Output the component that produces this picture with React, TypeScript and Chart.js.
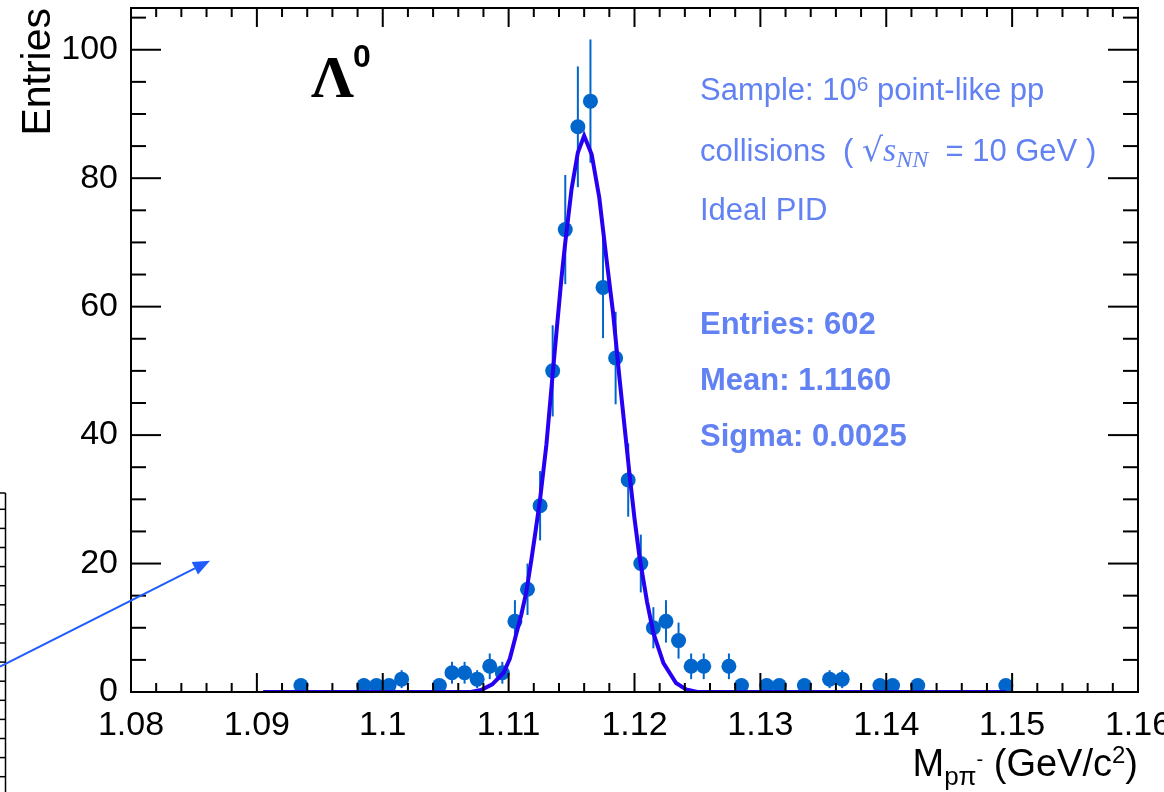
import React, { useEffect, useRef } from 'react';
import { Chart, registerables } from 'chart.js';

Chart.register(...registerables);

// ---- data ----
const binCenters = [
  1.0935, 1.0985, 1.0995, 1.1005, 1.1015, 1.1045, 1.1055, 1.1065, 1.1075, 1.1085,
  1.1095, 1.1105, 1.1115, 1.1125, 1.1135, 1.1145, 1.1155, 1.1165, 1.1175, 1.1185,
  1.1195, 1.1205, 1.1215, 1.1225, 1.1235, 1.1245, 1.1255, 1.1275, 1.1285, 1.1305,
  1.1315, 1.1335, 1.1355, 1.1365, 1.1395, 1.1405, 1.1425, 1.1495,
];
const binCounts = [
  1, 1, 1, 1, 2, 1, 3, 3, 2, 4,
  3, 11, 16, 29, 50, 72, 88, 92, 63, 52,
  33, 20, 10, 11, 8, 4, 4, 4, 1, 1,
  1, 1, 2, 2, 1, 1, 1, 1,
];
const binErrors = [
  1, 1, 1, 1, 1.4, 1, 1.7, 1.7, 1.4, 2,
  1.7, 3.3, 4, 5.4, 7.1, 8.5, 9.4, 9.6, 7.9, 7.2,
  5.7, 4.5, 3.2, 3.3, 2.8, 2, 2, 2, 1, 1,
  1, 1, 1.4, 1.4, 1, 1, 1, 1,
];
const fitX = [
  1.0905, 1.107, 1.1078, 1.1087, 1.1096, 1.1101, 1.1106, 1.111, 1.1114, 1.1118,
  1.1121, 1.1125, 1.113, 1.1135, 1.1138, 1.1142, 1.1145, 1.115, 1.1155, 1.116,
  1.1166, 1.1172, 1.1178, 1.1183, 1.1188, 1.1192, 1.1196, 1.12, 1.1204, 1.121,
  1.1215, 1.1223, 1.1233, 1.1241, 1.125, 1.1495,
];
const fitY = [
  0, 0, 0.3, 1.2, 3.0, 5.2, 9.0, 12.0, 15.5, 20.5,
  24.5, 30.0, 38.5, 49.5, 56.0, 64.5, 70.0, 78.3, 84.0, 86.6,
  83.7, 77.0, 67.0, 59.0, 49.0, 41.5, 34.0, 27.0, 21.0, 14.0,
  9.2, 4.5, 1.4, 0.4, 0, 0,
];
const statsLines = ['Entries: 602', 'Mean: 1.1160', 'Sigma: 0.0025'];

const X_MIN = 1.08;
const X_MAX = 1.16;
const X_STEP = 0.01;
const X_MINOR = 0.002;
const Y_MIN = 0;
const Y_MAX = 106.5;
const Y_STEP = 20;
const Y_MINOR = 5;

const POINT_COLOR = '#0066cc';
const FIT_COLOR = '#2600f2';
const TEXT_BLUE = '#6282f3';
const ARROW_BLUE = '#1f5bff';
const SANS = "'Liberation Sans', Arial, Helvetica, sans-serif";
const SERIF = "'Liberation Serif', 'Times New Roman', serif";

const errorBarPlugin = {
  id: 'errorBars',
  beforeDatasetsDraw(chart: any) {
    const { ctx } = chart;
    const x = chart.scales.x;
    const y = chart.scales.y;
    ctx.save();
    ctx.strokeStyle = POINT_COLOR;
    ctx.lineWidth = 2;
    binCenters.forEach((c, i) => {
      const px = x.getPixelForValue(c);
      ctx.beginPath();
      ctx.moveTo(px, y.getPixelForValue(Math.max(0, binCounts[i] - binErrors[i])));
      ctx.lineTo(px, y.getPixelForValue(binCounts[i] + binErrors[i]));
      ctx.stroke();
    });
    ctx.restore();
  },
};

function line(ctx: CanvasRenderingContext2D, x1: number, y1: number, x2: number, y2: number) {
  ctx.beginPath();
  ctx.moveTo(x1, y1);
  ctx.lineTo(x2, y2);
  ctx.stroke();
}

const framePlugin = {
  id: 'frame',
  afterDraw(chart: any) {
    const { ctx, chartArea } = chart;
    const { left, right, top, bottom } = chartArea;
    const x = chart.scales.x;
    const y = chart.scales.y;
    ctx.save();
    ctx.strokeStyle = '#000';
    ctx.lineWidth = 2;
    ctx.strokeRect(left, top, right - left, bottom - top);
    const nx = Math.round((X_MAX - X_MIN) / X_MINOR);
    for (let i = 0; i <= nx; i++) {
      const px = x.getPixelForValue(X_MIN + i * X_MINOR);
      const len = i % 5 === 0 ? 19 : 9;
      line(ctx, px, bottom, px, bottom - len);
      line(ctx, px, top, px, top + len);
    }
    const ny = Math.floor((Y_MAX - Y_MIN) / Y_MINOR);
    for (let i = 0; i <= ny; i++) {
      const py = y.getPixelForValue(Y_MIN + i * Y_MINOR);
      const len = i % 4 === 0 ? 30 : 15;
      line(ctx, left, py, left + len, py);
      line(ctx, right, py, right - len, py);
    }
    ctx.restore();
  },
};

type Seg = { text: string; font: string; dy: number };
function drawSegs(ctx: CanvasRenderingContext2D, segs: Seg[], x: number, baseline: number, align: 'left' | 'right') {
  let total = 0;
  const widths = segs.map((s) => {
    ctx.font = s.font;
    const w = ctx.measureText(s.text).width;
    total += w;
    return w;
  });
  let cx = align === 'left' ? x : x - total;
  segs.forEach((s, i) => {
    ctx.font = s.font;
    ctx.fillText(s.text, cx, baseline + s.dy);
    cx += widths[i];
  });
}

const textPlugin = {
  id: 'texts',
  afterDraw(chart: any) {
    const { ctx, chartArea } = chart;
    ctx.save();
    ctx.textBaseline = 'alphabetic';
    ctx.textAlign = 'left';

    // Lambda label
    ctx.fillStyle = '#000';
    ctx.font = `bold 60px ${SERIF}`;
    ctx.fillText('\u039B', 311, 97);
    ctx.font = `bold 32px ${SANS}`;
    ctx.fillText('0', 353, 67);

    // annotation
    ctx.fillStyle = TEXT_BLUE;
    const f = `31px ${SANS}`;
    drawSegs(ctx, [
      { text: 'Sample: 10', font: f, dy: 0 },
      { text: '6', font: `21px ${SANS}`, dy: -9 },
      { text: ' point-like pp', font: f, dy: 0 },
    ], 700, 100, 'left');
    drawSegs(ctx, [
      { text: 'collisions  ( ', font: f, dy: 0 },
      { text: '\u221A', font: `33px 'DejaVu Sans', ${SANS}`, dy: 0 },
      { text: 's', font: `italic 34px ${SERIF}`, dy: 0 },
      { text: 'NN', font: `italic 24px ${SERIF}`, dy: 6 },
      { text: '  = 10 GeV )', font: f, dy: 0 },
    ], 700, 161, 'left');
    ctx.font = f;
    ctx.fillText('Ideal PID', 700, 220);

    ctx.font = `bold 31px ${SANS}`;
    statsLines.forEach((s, i) => ctx.fillText(s, 700, 334 + i * 56));

    // x-axis title
    ctx.fillStyle = '#000';
    const tf = `38px ${SANS}`;
    drawSegs(ctx, [
      { text: 'M', font: tf, dy: 0 },
      { text: 'p\u03C0', font: `26px ${SANS}`, dy: 9 },
      { text: '-', font: `20px ${SANS}`, dy: -10 },
      { text: ' (GeV/c', font: tf, dy: 0 },
      { text: '2', font: `24px ${SANS}`, dy: -13 },
      { text: ')', font: tf, dy: 0 },
    ], chartArea.right, 776, 'right');

    // neighbouring panel fragment at the lower-left edge
    ctx.strokeStyle = '#000';
    ctx.lineWidth = 1.5;
    line(ctx, 0, 493, 5.5, 493);
    line(ctx, 5.5, 493, 5.5, 792);
    for (let k = 0; k < 15; k++) {
      const py = 509.3 + k * 19.1;
      line(ctx, 0, py, 5.5, py);
    }

    // arrow
    const ax0 = 0, ay0 = 666.7, ax1 = 210, ay1 = 560.7;
    const ang = Math.atan2(ay1 - ay0, ax1 - ax0);
    const hl = 17, hw = 7;
    const bx = ax1 - hl * Math.cos(ang);
    const by = ay1 - hl * Math.sin(ang);
    ctx.strokeStyle = ARROW_BLUE;
    ctx.fillStyle = ARROW_BLUE;
    ctx.lineWidth = 2;
    line(ctx, ax0, ay0, bx, by);
    ctx.beginPath();
    ctx.moveTo(ax1, ay1);
    ctx.lineTo(bx + hw * Math.sin(ang), by - hw * Math.cos(ang));
    ctx.lineTo(bx - hw * Math.sin(ang), by + hw * Math.cos(ang));
    ctx.closePath();
    ctx.fill();

    ctx.restore();
  },
};

export default function App() {
  const canvasRef = useRef<HTMLCanvasElement | null>(null);

  useEffect(() => {
    if (!canvasRef.current) return;
    const chart = new Chart(canvasRef.current, {
      type: 'scatter',
      data: {
        datasets: [
          {
            type: 'line',
            label: 'fit',
            data: fitX.map((x, i) => ({ x, y: fitY[i] })),
            borderColor: FIT_COLOR,
            borderWidth: 4,
            pointRadius: 0,
            tension: 0,
            fill: false,
          } as any,
          {
            type: 'scatter',
            label: 'data',
            data: binCenters.map((x, i) => ({ x, y: binCounts[i] })),
            backgroundColor: POINT_COLOR,
            borderColor: POINT_COLOR,
            borderWidth: 0,
            pointRadius: 7.5,
            pointHoverRadius: 7.5,
          },
        ],
      },
      options: {
        animation: false,
        responsive: false,
        devicePixelRatio: 1,
        layout: { padding: { left: 0, right: 26, top: 8, bottom: 0 } },
        plugins: { legend: { display: false }, tooltip: { enabled: false } },
        scales: {
          x: {
            type: 'linear',
            min: X_MIN,
            max: X_MAX,
            grid: { display: false, drawTicks: false },
            border: { display: false },
            ticks: {
              stepSize: X_STEP,
              autoSkip: false,
              maxRotation: 0,
              color: '#000',
              padding: 13,
              font: { family: SANS, size: 34 },
              callback: (v: any) => String(Number(Number(v).toFixed(2))),
            },
            afterFit: (s: any) => {
              s.height = 100;
              s.paddingLeft = 0;
              s.paddingRight = 0;
            },
          },
          y: {
            type: 'linear',
            min: Y_MIN,
            max: Y_MAX,
            grid: { display: false, drawTicks: false },
            border: { display: false },
            ticks: {
              stepSize: Y_STEP,
              includeBounds: false,
              color: '#000',
              padding: 13,
              font: { family: SANS, size: 34 },
              callback: (v: any) => String(Math.round(Number(v))),
            },
            title: {
              display: true,
              text: 'Entries',
              align: 'end',
              color: '#000',
              font: { family: SANS, size: 41 },
              padding: { top: 14, bottom: 0 },
            },
            afterFit: (s: any) => {
              s.width = 131;
              s.paddingTop = 0;
              s.paddingBottom = 0;
            },
          },
        },
      } as any,
      plugins: [errorBarPlugin, framePlugin, textPlugin],
    });
    return () => chart.destroy();
  }, []);

  return (
    <div style={{ position: 'absolute', left: 0, top: 0, width: 1164, height: 792, background: '#fff' }}>
      <canvas ref={canvasRef} width={1164} height={792} style={{ display: 'block' }} />
    </div>
  );
}
